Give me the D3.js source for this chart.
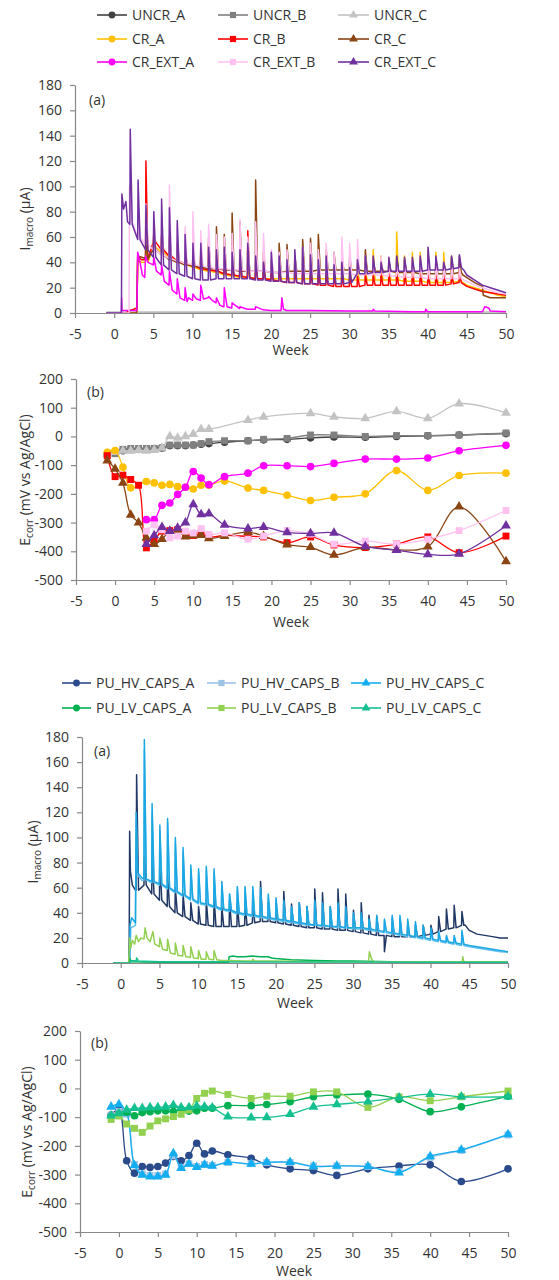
<!DOCTYPE html>
<html>
<head>
<meta charset="utf-8">
<script src="https://cdn.jsdelivr.net/npm/d3@7"></script>
<style>
body { margin: 0; background: #fff; }
svg { display: block; font-family: "Open Sans", sans-serif; }
</style>
</head>
<body>
<script>
// ---------- data ----------
// tick labels
const weekTicks = [-5, 0, 5, 10, 15, 20, 25, 30, 35, 40, 45, 50];
const imacroTicks = [0, 20, 40, 60, 80, 100, 120, 140, 160, 180];
const ecorrTicks = [-500, -400, -300, -200, -100, 0, 100, 200];

// weeks at which Ecorr was measured
const ecorrWeeks = [-1, 0, 1, 2, 3, 4, 5, 6, 7, 8, 9, 10, 11, 12, 14, 17, 19, 22, 25, 28, 32, 36, 40, 44, 50];

// weekly wetting spikes in the Imacro records
const spikeWeeks = [1, 2, 3, 4, 5, 6, 7, 8, 9, 10, 11, 12, 13, 14, 15, 16, 17, 18, 19, 20, 21, 22,
  23, 24, 25, 26, 27, 28, 29, 30, 31, 32, 33, 34, 35, 36, 37, 38, 39, 40, 41, 42, 43, 44];

// --- set 1 : Ecorr (mV vs Ag/AgCl)
const ecorrUNCR_A = [-65, -58, -50, -45, -45, -43, -42, -40, -32, -32, -32, -30, -27, -25, -20, -15, -12, -10, -5, -2, -3, 0, 2, 5, 10];
const ecorrUNCR_B = [-65, -60, -45, -42, -42, -42, -42, -40, -30, -30, -30, -30, -25, -18, -15, -15, -10, -7, 5, 5, 0, 3, 3, 5, 12];
const ecorrUNCR_C = [-60, -55, -50, -50, -48, -50, -48, -40, 0, -5, 0, 8, 25, 25, null, 57, 68, null, 80, 68, 63, 87, 63, 114, 82];
const ecorrCR_A = [-55, -49, -107, -179, null, -157, -162, -170, -167, -175, -177, -183, -170, -170, -155, -180, -188, -205, -223, -212, -200, -119, -188, -136, -128];
const ecorrCR_B = [-67, -140, -135, -150, -170, -388, -362, -330, -328, -325, -340, -345, -340, -350, -345, -348, -350, -370, -350, -378, -387, -375, -350, -405, -347];
const ecorrCR_C = [-84, -113, -162, -273, -300, -353, -375, -358, -330, -330, -349, -345, -344, -355, -347, -333, -347, -377, -386, -413, -386, -395, -384, -245, -435];
const ecorrCR_EXT_A = [null, null, null, null, null, -290, -290, -240, -232, -202, -177, -122, -145, -168, -140, -128, -102, -102, -105, -94, -79, -79, -75, -50, -31];
const ecorrCR_EXT_B = [null, null, null, null, null, -330, -308, -325, -353, -347, -330, -336, -321, -341, -336, -358, -347, -328, -340, -375, -364, -375, -358, -328, -258];
const ecorrCR_EXT_C = [null, null, null, null, null, -375, -345, -316, -330, -319, -300, -237, -272, -269, -308, -321, -316, -334, -338, -336, -383, -396, -411, -409, -311];

// --- set 1 : Imacro (µA)
const imUNCR_A = [[-1, 0], [50, 0]];
const imUNCR_B = [[-1, 0.3], [50, 0.3]];
const imUNCR_C = [[-1, 0.6], [10, 0.8], [30, 0.8], [50, 0.6]];
const imCR_EXT_A = [[-1, 0], [0.9, 0], [0.95, 12], [1.0, 2], [2.9, 2], [3.0, 48], [3.3, 40], [3.6, 30], [3.9, 28], [4.0, 45], [4.3, 40],
  [5.0, 38], [5.05, 44], [5.4, 33], [6.0, 30], [6.05, 38], [6.4, 25], [7.0, 22], [7.05, 33], [7.4, 18], [8.0, 15], [8.05, 27],
  [8.4, 12], [9.0, 10], [9.05, 20], [9.3, 9], [9.5, 12], [10.0, 10], [10.05, 15], [10.5, 11], [11.0, 10], [11.05, 22], [11.4, 11],
  [12.0, 12], [12.05, 13], [12.5, 10], [13.0, 8], [13.05, 12], [13.5, 6], [14.0, 5], [14.05, 20], [14.4, 5], [15.0, 4], [15.05, 8],
  [16, 3.5], [16.05, 5], [17, 3], [18, 3], [18.05, 5], [19, 2.5], [20, 2], [21.3, 2], [21.4, 12], [21.6, 3], [22, 2], [25, 2],
  [30, 1.5], [33, 1.5], [33.05, 3], [33.3, 1.5], [38, 1], [39.7, 1], [39.75, 3], [40, 1], [44, 1], [47, 1], [47.3, 5], [47.8, 4],
  [48, 1.5], [50, 1]];

const leadCR_A = [[-1, 0], [2.9, 0], [3.0, 42], [3.5, 40]];
const baseCR_A = [null, null, null, 40, 52, 48, 44, 40, 38, 36, 34, 33, 32, 30, 29, 28, 28, 27, 27, 27, 27, 27, 27,
  27, 27, 27, 27, 27, 27, 26, 26, 26, 26, 26, 26, 26, 25, 25, 25, 24, 24, 24, 24, 25];
const peakCR_A = [null, null, null, 55, 58, 56, 54, 50, 48, 46, 44, 42, 40, 38, 37, 36, 35, 35, 40, 35, 36, 34, 34,
  33, 34, 35, 34, 33, 34, 33, 33, 33, 50, 45, 43, 64, 45, 48, 48, 50, 48, 48, 45, 40];
const tailCR_A = [[45, 22], [46, 20], [47, 18], [48, 16], [49, 14], [50, 13]];

const leadCR_B = [[-1, 0], [1.5, 0], [2.0, 2], [2.5, 3], [2.9, 4], [3.0, 45], [3.5, 42]];
const baseCR_B = [null, null, null, 42, 56, 50, 45, 41, 39, 37, 35, 34, 33, 31, 30, 29, 28, 27, 27, 26, 25, 24, 24,
  23, 23, 22, 22, 21, 21, 21, 21, 22, 22, 22, 22, 22, 22, 22, 22, 22, 22, 22, 23, 24];
const peakCR_B = [null, null, null, 120, 62, 62, 60, 55, 50, 48, 47, 55, 45, 45, 42, 44, 65, 40, 38, 36, 35, 34, 33,
  33, 32, 32, 31, 30, 30, 29, 29, 30, 30, 31, 31, 31, 31, 31, 31, 30, 30, 30, 30, 31];
const tailCR_B = [[45, 21], [46, 19], [47, 17], [48, 16], [49, 15], [50, 14]];

const leadCR_C = [[-1, 0], [2.85, 0], [2.9, 3], [3.0, 45], [3.5, 44]];
const baseCR_C = [null, null, null, 43, 50, 46, 42, 40, 38, 37, 36, 35, 35, 34, 34, 33, 33, 33, 33, 32, 32, 33, 33,
  33, 33, 34, 34, 34, 34, 34, 34, 33, 33, 33, 33, 32, 32, 32, 31, 31, 31, 31, 31, 32];
const peakCR_C = [null, null, null, 60, 65, 60, 58, 55, 52, 50, 52, 60, 68, 62, 79, 72, 55, 105, 48, 42, 55, 54, 45,
  58, 59, 62, 50, 48, 45, 44, 42, 50, 42, 40, 42, 44, 42, 40, 42, 40, 42, 40, 44, 45];
const tailCR_C = [[44.5, 30], [45, 28], [46, 24], [47, 21], [47.1, 14], [48, 12], [49, 12], [50, 12]];

const leadCR_EXT_B = [[-1, 0], [1.9, 0], [1.95, 100], [2.3, 72], [2.7, 65]];
const baseCR_EXT_B = [null, null, 60, 54, 50, 46, 43, 41, 39, 38, 37, 36, 35, 35, 34, 34, 33, 33, 33, 32, 32, 32,
  31, 31, 31, 31, 31, 31, 31, 31, 30, 30, 30, 30, 29, 29, 28, 28, 28, 27, 27, 27, 27, 27];
const peakCR_EXT_B = [null, null, 85, 86, 80, 75, 101, 70, 68, 80, 65, 70, 62, 60, 63, 74, 60, 72, 63, 50, 48, 50,
  45, 52, 55, 50, 55, 48, 60, 55, 58, 45, 42, 45, 40, 42, 40, 42, 45, 44, 43, 40, 38, 36];
const tailCR_EXT_B = [[45, 25], [46, 22], [47, 20], [48, 18], [49, 16], [50, 15]];

const leadCR_EXT_C = [[-1, 0], [0.93, 0], [0.98, 94], [1.2, 82], [1.5, 88], [1.7, 72]];
const baseCR_EXT_C = [null, 70, 58, 50, 44, 38, 34, 31, 29, 27, 26, 26, 27, 27, 27, 27, 27, 26, 26, 25, 25, 24,
  24, 23, 23, 23, 23, 23, 23, 24, 31, 31, 32, 32, 33, 33, 33, 33, 33, 34, 34, 34, 35, 36];
const peakCR_EXT_C = [null, 145, 105, 85, 80, 90, 83, 73, 62, 55, 55, 52, 50, 52, 48, 50, 55, 45, 40, 48, 45, 42,
  50, 52, 46, 42, 45, 38, 40, 36, 42, 45, 45, 40, 44, 45, 44, 44, 45, 52, 45, 40, 45, 46];
const tailCR_EXT_C = [[44.6, 34], [45, 30], [46, 26], [47, 22], [48, 20], [49, 18], [50, 16]];

// --- set 2 : Ecorr (mV vs Ag/AgCl)
const ecorrHV_A = [-93, -73, -252, -295, -272, -275, -272, -260, -237, -252, -234, -191, -228, -218, -231, -243, -266, -280, -286, -303, -280, -270, -266, -324, -280];
const ecorrHV_B = [-95, -80, -90, -265, -298, -303, -303, -298, -235, -275, -262, -272, -265, -268, -258, -262, -258, -258, -270, -270, -272, -290, -240, -216, -162];
const ecorrHV_C = [-64, -56, -85, -268, -301, -307, -307, -301, -226, -278, -263, -274, -266, -270, -257, -263, -257, -257, -272, -270, -272, -293, -237, -214, -160];
const ecorrLV_A = [-98, -89, -83, -95, -84, -81, -78, -78, -81, -73, -79, -78, -69, -69, -60, -60, -56, -46, -29, -23, -20, -38, -81, -64, -27];
const ecorrLV_B = [-108, -96, -124, -139, -153, -131, -113, -106, -98, -90, -75, -35, -17, -9, -21, -35, -27, -27, -12, -12, -66, -29, -43, -29, -9];
const ecorrLV_C = [-95, -87, -75, -69, -69, -66, -66, -64, -58, -66, -66, -61, -64, -67, -98, -102, -101, -90, -64, -56, -46, -32, -20, -29, -29];

// --- set 2 : Imacro (µA)
const leadHV_A = [[-1, 0], [1.05, 0], [1.1, 20], [1.15, 105], [1.25, 73], [1.5, 62], [1.9, 58]];
const baseHV_A = [null, 58, 62, 55, 50, 45, 40, 37, 34, 31, 30, 29, 29, 29, 29, 30, 32, 33, 33, 32, 31, 30,
  29, 28, 28, 27, 27, 26, 26, 25, 24, 23, 22, 22, 21, 21, 21, 21, 22, 23, 25, 27, 28, 30];
const peakHV_A = [null, 150, 85, 88, 85, 70, 60, 55, 48, 45, 50, 52, 45, 50, 48, 50, 50, 65, 48, 45, 57, 47,
  48, 45, 59, 56, 45, 59, 55, 42, 48, 38, 37, 9, 35, 35, 30, 30, 30, 30, 37, 43, 46, 41];
const tailHV_A = [[44.5, 30], [45, 26], [46, 23], [47, 22], [48, 21], [49, 20], [50, 20]];

const leadHV_B = [[-1, 0], [1.2, 0], [1.3, 28], [1.9, 30], [2.0, 112], [2.2, 70], [2.7, 66]];
const baseHV_B = [null, null, 66, 64, 62, 59, 56, 53, 50, 47, 46, 44, 42, 41, 39, 38, 37, 36, 35, 34, 33, 32,
  31, 30, 30, 29, 29, 28, 28, 27, 27, 26, 25, 24, 23, 22, 21, 20, 19, 18, 17, 16, 15, 14];
const peakHV_B = [null, null, 170, 120, 105, 112, 95, 88, 75, 72, 74, 72, 62, 55, 58, 58, 58, 56, 52, 50, 48, 44,
  46, 43, 48, 46, 44, 46, 43, 38, 38, 34, 36, 34, 36, 36, 33, 31, 29, 27, 24, 21, 20, 24];
const tailHV_B = [[45, 13], [46, 12], [47, 11], [48, 10], [49, 9], [50, 8.5]];

const leadHV_C = [[-1, 0], [1.1, 0], [1.2, 30], [1.4, 36], [1.9, 32], [2.0, 120], [2.2, 72], [2.7, 68]];
const baseHV_C = [null, null, 67, 65, 63, 60, 57, 54, 51, 48, 47, 45, 43, 42, 40, 39, 38, 37, 36, 35, 34, 33,
  32, 31, 30, 30, 29, 29, 28, 28, 28, 27, 26, 25, 24, 23, 22, 21, 20, 19, 18, 17, 16, 15];
const peakHV_C = [null, null, 178, 127, 110, 115, 100, 92, 78, 75, 77, 75, 65, 55, 61, 61, 61, 60, 55, 52, 50, 45,
  48, 45, 50, 48, 45, 48, 45, 40, 40, 35, 38, 35, 38, 38, 35, 33, 30, 28, 25, 22, 22, 26];
const tailHV_C = [[45, 14], [46, 13], [47, 12], [48, 11], [49, 10], [50, 9]];

const imLV_A = [[-1, 0], [1.1, 0], [1.15, 4], [1.3, 1], [5, 0.5], [13.9, 0.5], [14.0, 5], [14.5, 5.5], [15, 5], [16, 5],
  [17, 5.5], [18, 5], [19, 5], [19.5, 4], [20, 3.5], [22, 2.5], [25, 2], [28, 1.5], [30, 1.5], [35, 1], [40, 1], [45, 0.8], [50, 0.5]];
const imLV_B = [[-1, 0], [1.0, 0], [1.1, 10], [1.15, 20], [1.3, 12], [1.5, 18], [1.8, 15], [2.0, 22], [2.3, 17], [2.6, 20],
  [3.0, 19], [3.15, 28], [3.4, 20], [3.8, 17], [4.15, 25], [4.4, 15], [5.0, 13], [5.05, 20], [5.4, 11], [6.0, 10], [6.05, 19],
  [6.4, 8], [7.0, 7], [7.05, 16], [7.4, 6], [8.0, 5.5], [8.05, 14], [8.4, 5], [9, 4.5], [9.05, 13], [9.4, 4], [10, 3.5],
  [10.05, 10], [10.4, 3], [11, 3], [11.05, 9], [11.4, 3], [12, 2.5], [12.05, 10], [12.4, 2.5], [13, 2], [14, 2], [16, 1.5],
  [17, 1.5], [17.05, 3], [17.3, 1.5], [20, 1.5], [25, 1], [32, 1], [32.1, 9], [32.4, 3], [32.7, 1], [36, 1], [40, 1],
  [44.1, 1], [44.15, 5], [44.3, 1], [50, 1]];
const imLV_C = [[-1, 0], [1.2, 0], [1.3, 2], [2.0, 1.5], [2.05, 4], [2.3, 1.5], [5, 1], [10, 1], [20, 0.8], [30, 0.8], [40, 0.6], [50, 0.5]];

// ---------- series tables ----------
const set1 = [
  { name: "UNCR_A", color: "#404040", shape: "circle" },
  { name: "UNCR_B", color: "#808080", shape: "square" },
  { name: "UNCR_C", color: "#c3c3c3", shape: "triangle" },
  { name: "CR_A", color: "#ffc000", shape: "circle" },
  { name: "CR_B", color: "#ff0000", shape: "square" },
  { name: "CR_C", color: "#8b4513", shape: "triangle" },
  { name: "CR_EXT_A", color: "#ff00ff", shape: "circle" },
  { name: "CR_EXT_B", color: "#ffc2f0", shape: "square" },
  { name: "CR_EXT_C", color: "#7030a0", shape: "triangle" }
];
const set1Ecorr = [ecorrUNCR_A, ecorrUNCR_B, ecorrUNCR_C, ecorrCR_A, ecorrCR_B, ecorrCR_C, ecorrCR_EXT_A, ecorrCR_EXT_B, ecorrCR_EXT_C];
const set1Imacro = [
  imUNCR_A, imUNCR_B, imUNCR_C,
  spikes(leadCR_A, baseCR_A, peakCR_A, tailCR_A),
  spikes(leadCR_B, baseCR_B, peakCR_B, tailCR_B),
  spikes(leadCR_C, baseCR_C, peakCR_C, tailCR_C),
  imCR_EXT_A,
  spikes(leadCR_EXT_B, baseCR_EXT_B, peakCR_EXT_B, tailCR_EXT_B),
  spikes(leadCR_EXT_C, baseCR_EXT_C, peakCR_EXT_C, tailCR_EXT_C)
];

const set2 = [
  { name: "PU_HV_CAPS_A", color: "#2b4a8c", shape: "circle" },
  { name: "PU_HV_CAPS_B", color: "#9dc3e6", shape: "square" },
  { name: "PU_HV_CAPS_C", color: "#12aef0", shape: "triangle" },
  { name: "PU_LV_CAPS_A", color: "#00b050", shape: "circle" },
  { name: "PU_LV_CAPS_B", color: "#92d050", shape: "square" },
  { name: "PU_LV_CAPS_C", color: "#14c090", shape: "triangle" }
];
const set2Ecorr = [ecorrHV_A, ecorrHV_B, ecorrHV_C, ecorrLV_A, ecorrLV_B, ecorrLV_C];
const set2Imacro = [
  spikes(leadHV_A, baseHV_A, peakHV_A, tailHV_A),
  spikes(leadHV_B, baseHV_B, peakHV_B, tailHV_B),
  spikes(leadHV_C, baseHV_C, peakHV_C, tailHV_C),
  imLV_A, imLV_B, imLV_C
];
const set2ImacroColors = ["#203864", "#5fc2ee", "#1aa7e4", "#00b050", "#92d050", "#14c090"];

// each wetting spike: base -> peak -> back to base, then on to next week
function spikes(lead, base, peak, tail) {
  const pts = lead.slice();
  spikeWeeks.forEach((w, i) => {
    if (base[i] == null) return;
    pts.push([w, base[i]], [w + 0.05, peak[i]], [w + 0.3, base[i]]);
  });
  return pts.concat(tail);
}

// ---------- drawing ----------
const svg = d3.select("body").append("svg").attr("width", 559).attr("height", 1280);
const textColor = "#333333", axisColor = "#898989", fs = "14px";

const symbols = { circle: d3.symbolCircle, square: d3.symbolSquare, triangle: d3.symbolTriangle };
const symSize = { circle: 46, square: 48, triangle: 42 };

function legend(series, cols, rows) {
  series.forEach((s, i) => {
    const c = cols[i % 3], y = rows[Math.floor(i / 3)];
    const g = svg.append("g");
    g.append("line").attr("x1", c[0]).attr("x2", c[1]).attr("y1", y).attr("y2", y)
      .attr("stroke", s.color).attr("stroke-width", 1.6);
    g.append("path").attr("d", d3.symbol(symbols[s.shape], symSize[s.shape] * 0.8)())
      .attr("transform", `translate(${(c[0] + c[1]) / 2},${y})`).attr("fill", s.color);
    g.append("text").attr("x", c[1] + 5).attr("y", y).attr("dy", "0.35em")
      .attr("font-size", fs).attr("fill", textColor).text(s.name);
  });
}

function axes(x, y, yTicks) {
  const [y0] = y.range();
  const gx = svg.append("g").attr("transform", `translate(0,${y0})`)
    .call(d3.axisBottom(x).tickValues(weekTicks).tickFormat(d => String(d)).tickSize(5).tickPadding(11).tickSizeOuter(0));
  const gy = svg.append("g").attr("transform", `translate(${x.range()[0]},0)`)
    .call(d3.axisLeft(y).tickValues(yTicks).tickFormat(d => String(d)).tickSize(5).tickPadding(8).tickSizeOuter(0));
  [gx, gy].forEach(g => {
    g.select(".domain").attr("stroke", axisColor).attr("stroke-width", 1.2);
    g.selectAll(".tick line").attr("stroke", axisColor).attr("stroke-width", 1.2);
    g.selectAll("text").attr("fill", textColor).attr("font-size", fs).attr("font-family", "Open Sans");
  });
}

function yTitle(cx, cy, main, sub, rest) {
  const t = svg.append("text").attr("transform", `translate(${cx},${cy}) rotate(-90)`)
    .attr("text-anchor", "middle").attr("font-size", fs).attr("fill", textColor);
  t.append("tspan").text(main);
  t.append("tspan").attr("font-size", "10px").attr("dy", 3).text(sub);
  t.append("tspan").attr("dy", -3).text(rest);
}

function label(xp, yp, txt) {
  svg.append("text").attr("x", xp).attr("y", yp).attr("font-size", fs).attr("fill", textColor).text(txt);
}

function imacroPanel(series, data, colors, xr, yr, titleXY, weekY, tag) {
  const x = d3.scaleLinear().domain([-5, 50]).range(xr);
  const y = d3.scaleLinear().domain([0, 180]).range(yr);
  const line = d3.line().x(d => x(d[0])).y(d => y(d[1]));
  data.forEach((d, i) => {
    svg.append("path").attr("d", line(d)).attr("fill", "none")
      .attr("stroke", colors ? colors[i] : series[i].color).attr("stroke-width", 1.5)
      .attr("stroke-linejoin", "round");
  });
  axes(x, y, imacroTicks);
  yTitle(titleXY[0], titleXY[1], "I", "macro", " (µA)");
  svg.append("text").attr("x", (xr[0] + xr[1]) / 2).attr("y", weekY).attr("text-anchor", "middle")
    .attr("font-size", fs).attr("fill", textColor).text("Week");
  label(tag[0], tag[1], "(a)");
}

function ecorrPanel(series, data, xr, yr, titleXY, weekY, tag) {
  const x = d3.scaleLinear().domain([-5, 50]).range(xr);
  const y = d3.scaleLinear().domain([-500, 200]).range(yr);
  const line = d3.line().x(d => x(d[0])).y(d => y(d[1])).curve(d3.curveCatmullRom.alpha(0.5));
  data.forEach((vals, i) => {
    const pts = ecorrWeeks.map((w, j) => [w, vals[j]]).filter(p => p[1] != null);
    const s = series[i];
    svg.append("path").attr("d", line(pts)).attr("fill", "none")
      .attr("stroke", s.color).attr("stroke-width", 1.3);
    svg.append("g").selectAll("path").data(pts).join("path")
      .attr("d", d3.symbol(symbols[s.shape], symSize[s.shape])())
      .attr("transform", d => `translate(${x(d[0])},${y(d[1])})`)
      .attr("fill", s.color);
  });
  axes(x, y, ecorrTicks);
  yTitle(titleXY[0], titleXY[1], "E", "corr", " (mV vs Ag/AgCl)");
  svg.append("text").attr("x", (xr[0] + xr[1]) / 2).attr("y", weekY).attr("text-anchor", "middle")
    .attr("font-size", fs).attr("fill", textColor).text("Week");
  label(tag[0], tag[1], "(b)");
}

// set 1
legend(set1, [[97, 127], [218, 248], [338, 369]], [15, 39, 62]);
imacroPanel(set1, set1Imacro, null, [75, 506], [313, 85], [30, 219], 355, [89, 105]);
ecorrPanel(set1, set1Ecorr, [76, 506], [580, 379], [30, 480], 627, [87, 397]);

// set 2
legend(set2, [[62, 91], [207, 236], [351, 381]], [683, 708]);
imacroPanel(set2, set2Imacro, set2ImacroColors, [82, 508], [963, 737], [38, 852], 1008, [94, 756]);
ecorrPanel(set2, set2Ecorr, [80, 508], [1232, 1031], [32, 1132], 1276, [91, 1048]);
</script>
</body>
</html>
